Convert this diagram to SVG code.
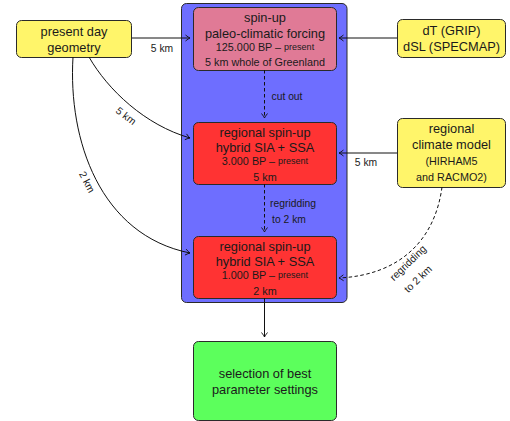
<svg xmlns="http://www.w3.org/2000/svg" width="510" height="421" viewBox="0 0 510 421">
<defs>
<marker id="arr" viewBox="-6 -4 7 8" refX="0" refY="0" markerWidth="7" markerHeight="8" markerUnits="userSpaceOnUse" orient="auto">
<path d="M-4.5,-3 Q-1.5,-0.6 0,0 Q-1.5,0.6 -4.5,3" fill="none" stroke="#111" stroke-width="0.9" stroke-dasharray="none"/>
</marker>
</defs>
<style>
text{font-family:"Liberation Sans",Arial,sans-serif;fill:#1a1a1a;text-anchor:middle;dominant-baseline:central}
.box{stroke:#2a2a2a;stroke-width:1}
.m{font-size:12.8px}
.s{font-size:10.8px}
.xs{font-size:9px}
.lbl{font-size:10.3px}
.c{fill:none;stroke:#111;stroke-width:1;marker-end:url(#arr)}
.d{stroke-dasharray:3.5,2.5}
</style>
<g id="container"><rect class="box" x="181.5" y="3.5" width="165.5" height="299" rx="5" fill="#6e6eff"/></g>
<g id="spinup">
<rect class="box" x="193.5" y="7.5" width="143" height="63" rx="5" fill="#e07a96"/>
<text class="m" x="265" y="17">spin-up</text>
<text class="m" x="265" y="33">paleo-climatic forcing</text>
<text class="s" x="265" y="47">125.000 BP – <tspan class="xs">present</tspan></text>
<text class="s" x="265" y="62">5 km whole of Greenland</text>
</g>
<g id="regional1">
<rect class="box" x="193.5" y="122.5" width="143" height="62" rx="5" fill="#ff3333"/>
<text class="m" x="265" y="132">regional spin-up</text>
<text class="m" x="265" y="147">hybrid SIA + SSA</text>
<text class="s" x="265" y="161">3.000 BP – <tspan class="xs">present</tspan></text>
<text class="s" x="265" y="177">5 km</text>
</g>
<g id="regional2">
<rect class="box" x="193.5" y="236.5" width="143" height="62" rx="5" fill="#ff3333"/>
<text class="m" x="265" y="246">regional spin-up</text>
<text class="m" x="265" y="261">hybrid SIA + SSA</text>
<text class="s" x="265" y="275">1.000 BP – <tspan class="xs">present</tspan></text>
<text class="s" x="265" y="291">2 km</text>
</g>
<g id="selection">
<rect class="box" x="193.5" y="341.5" width="143" height="79" rx="5" fill="#5cff5c"/>
<text class="m" x="265" y="373">selection of best</text>
<text class="m" x="265" y="389">parameter settings</text>
</g>
<g id="geometry">
<rect class="box" x="16.5" y="20.5" width="115" height="37" rx="5" fill="#fff56a"/>
<text class="m" x="74" y="31">present day</text>
<text class="m" x="74" y="47">geometry</text>
</g>
<g id="forcing">
<rect class="box" x="397.5" y="19.5" width="108" height="38" rx="5" fill="#fff56a"/>
<text class="m" x="451.5" y="30">dT (GRIP)</text>
<text class="m" x="451.5" y="46">dSL (SPECMAP)</text>
</g>
<g id="rcm">
<rect class="box" x="397.5" y="118.5" width="108" height="69" rx="5" fill="#fff56a"/>
<text class="m" x="451.5" y="128">regional</text>
<text class="m" x="451.5" y="144">climate model</text>
<text class="s" x="451.5" y="161">(HIRHAM5</text>
<text class="s" x="451.5" y="177">and RACMO2)</text>
</g>
<g id="connectors">
<path class="c" d="M132,38 H190"/>
<text class="lbl" x="162" y="48">5 km</text>
<path class="c" d="M397,38 H339"/>
<path class="c" d="M89,57 C108,90 145,125 190,138"/>
<text class="lbl" transform="translate(126,116) rotate(38)" x="0" y="0">5 km</text>
<path class="c" d="M73,57 C68,140 100,235 190,253"/>
<text class="lbl" transform="translate(87,182) rotate(62)" x="0" y="0">2 km</text>
<path class="c d" d="M264.5,70 V118"/>
<text class="lbl" x="287" y="96">cut out</text>
<path class="c d" d="M264.5,184 V232"/>
<text class="lbl" x="293" y="203">regridding</text>
<text class="lbl" x="289" y="219">to 2 km</text>
<path class="c" d="M397,153 H339"/>
<text class="lbl" x="366" y="162">5 km</text>
<path class="c d" d="M442,187 C435,240 400,275 339,278"/>
<text class="lbl" transform="translate(408,263) rotate(-44)" x="0" y="0">regridding</text>
<text class="lbl" transform="translate(418,279) rotate(-44)" x="0" y="0">to 2 km</text>
<path class="c" d="M264.5,298 V337"/>
</g>
</svg>
